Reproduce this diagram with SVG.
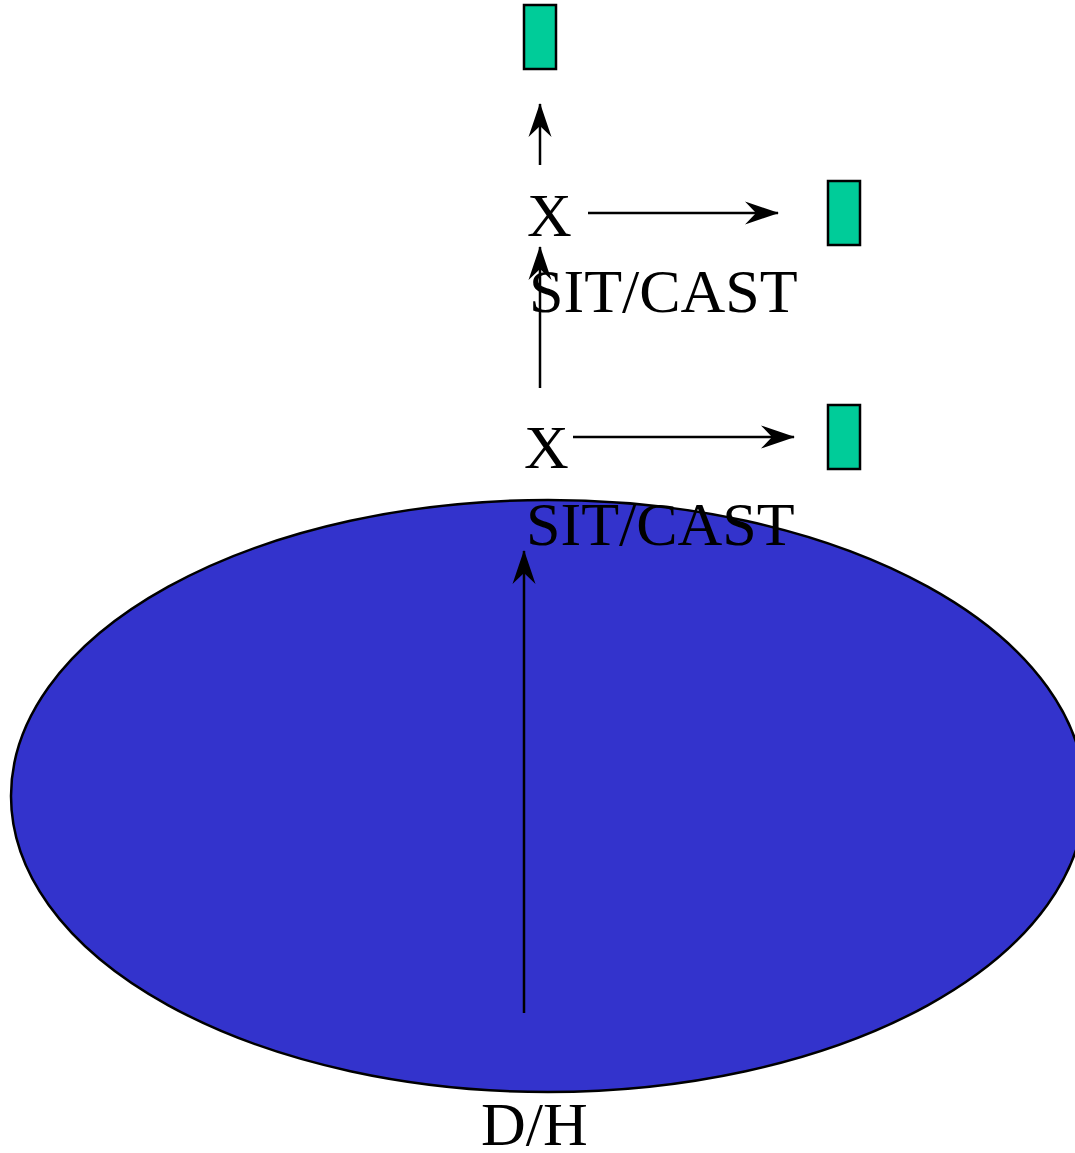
<svg xmlns="http://www.w3.org/2000/svg" width="1075" height="1153" viewBox="0 0 1075 1153">
<style>
.lbl{font-family:"Liberation Serif","Times New Roman",serif;font-size:62px;fill:#000}
.box{fill:#00CC99;stroke:#000;stroke-width:2.5}
.conn{stroke:#000;stroke-width:2.5;fill:none}
</style>
<defs>
<marker id="ah" markerUnits="userSpaceOnUse" markerWidth="1" markerHeight="1" refX="0" refY="0" orient="auto" overflow="visible">
<path d="M1,0 L-33,-11.5 L-22,0 L-33,11.5 Z" fill="#000"/>
</marker>
</defs>
<rect width="1075" height="1153" fill="#fff"/>
<g id="dh">
<ellipse cx="548" cy="796" rx="537" ry="296" fill="#3333CC" stroke="#000" stroke-width="2.5"/>
<text class="lbl" x="481" y="1145">D/H</text>
</g>
<g id="box1"><rect class="box" x="524" y="5" width="32" height="64"/></g>
<g id="box2"><rect class="box" x="828" y="181" width="32" height="64"/></g>
<g id="box3"><rect class="box" x="828" y="405" width="32" height="64"/></g>
<g id="x1"><text class="lbl" x="527" y="236">X</text></g>
<g id="sit1"><text class="lbl" x="529" y="312">SIT/CAST</text></g>
<g id="x2"><text class="lbl" x="524" y="468">X</text></g>
<g id="sit2"><text class="lbl" x="526" y="545">SIT/CAST</text></g>
<g id="connectors">
<line class="conn" x1="540" y1="165" x2="540" y2="104" marker-end="url(#ah)"/>
<line class="conn" x1="588" y1="213" x2="778" y2="213" marker-end="url(#ah)"/>
<line class="conn" x1="540" y1="388" x2="540" y2="247" marker-end="url(#ah)"/>
<line class="conn" x1="573" y1="437" x2="794" y2="437" marker-end="url(#ah)"/>
<line class="conn" x1="524" y1="1013" x2="524" y2="551" marker-end="url(#ah)"/>
</g>
</svg>
